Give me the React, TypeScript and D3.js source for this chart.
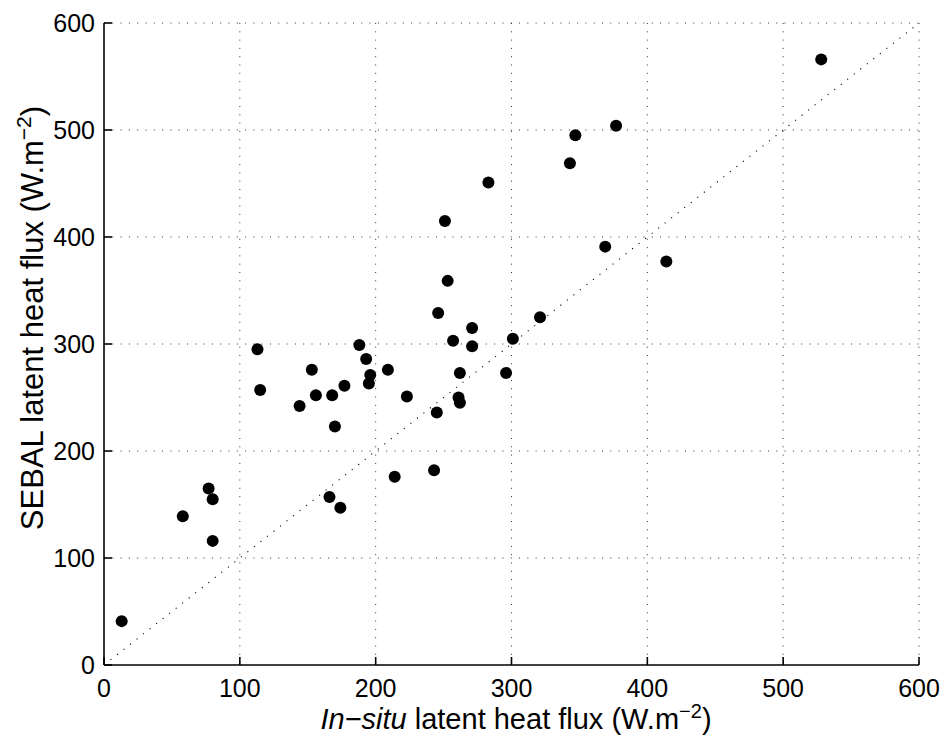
import React from "react";
import * as d3 from "d3";

const insituLE = [283, 251, 253, 246, 321, 271, 301, 257, 271, 113, 188, 193, 153, 209, 196, 195, 262, 296, 177, 115, 156, 168, 223, 261, 262, 144, 245, 170, 243, 214, 166, 528, 377, 347, 343, 369, 414, 77, 80, 58, 80, 174, 13];
const sebalLE = [451, 415, 359, 329, 325, 315, 305, 303, 298, 295, 299, 286, 276, 276, 271, 263, 273, 273, 261, 257, 252, 252, 251, 250, 245, 242, 236, 223, 182, 176, 157, 566, 504, 495, 469, 391, 377, 165, 155, 139, 116, 147, 41];
const xTicks = [0, 100, 200, 300, 400, 500, 600];
const yTicks = [0, 100, 200, 300, 400, 500, 600];
const oneToOne = [0, 600];

const W = 949;
const H = 746;
const left = 104;
const right = 919;
const top = 23;
const bottom = 665;
const FONT = "'Liberation Sans', Arial, Helvetica, sans-serif";

export default function App() {
  const x = d3.scaleLinear().domain([0, 600]).range([left, right]);
  const y = d3.scaleLinear().domain([0, 600]).range([bottom, top]);
  const line = d3
    .line<number>()
    .x((d) => x(d))
    .y((d) => y(d));

  return (
    <svg
      width={W}
      height={H}
      style={{ position: "absolute", left: 0, top: 0, background: "#fff" }}
      fontFamily={FONT}
    >
      <rect x={0} y={0} width={W} height={H} fill="#fff" />
      {/* grid */}
      {xTicks.filter((t) => t > 0).map((t) => (
        <line
          key={"gx" + t}
          x1={x(t)}
          x2={x(t)}
          y1={y(600)}
          y2={y(0)}
          stroke="#333"
          strokeWidth={1}
          strokeDasharray="1 7.3"
        />
      ))}
      {yTicks.filter((t) => t > 0).map((t) => (
        <line
          key={"gy" + t}
          x1={x(0)}
          x2={x(600)}
          y1={y(t)}
          y2={y(t)}
          stroke="#333"
          strokeWidth={1}
          strokeDasharray="1 7.3"
        />
      ))}
      {/* 1:1 line */}
      <path
        d={line(oneToOne) || ""}
        fill="none"
        stroke="#000"
        strokeWidth={1.1}
        strokeDasharray="1.1 7.2"
      />
      {/* points */}
      {insituLE.map((v, i) => (
        <circle key={i} cx={x(v)} cy={y(sebalLE[i])} r={6} fill="#000" />
      ))}
      {/* axes */}
      <line x1={x(0)} x2={x(600)} y1={y(0)} y2={y(0)} stroke="#000" strokeWidth={1.6} />
      <line x1={x(0)} x2={x(0)} y1={y(0)} y2={y(600)} stroke="#000" strokeWidth={1.6} />
      {xTicks.map((t) => (
        <g key={"tx" + t}>
          <line x1={x(t)} x2={x(t)} y1={y(0)} y2={y(0) - 8} stroke="#000" strokeWidth={1.6} />
          <text x={x(t)} y={697} textAnchor="middle" fontSize={25} fill="#000">
            {t}
          </text>
        </g>
      ))}
      {yTicks.map((t) => (
        <g key={"ty" + t}>
          <line x1={x(0)} x2={x(0) + 8} y1={y(t)} y2={y(t)} stroke="#000" strokeWidth={1.6} />
          <text x={95} y={y(t) + 9} textAnchor="end" fontSize={25} fill="#000">
            {t}
          </text>
        </g>
      ))}
      {/* x label */}
      <text x={516} y={729} textAnchor="middle" fontSize={29} fill="#000">
        <tspan fontStyle="italic">In−situ</tspan>
        <tspan> latent heat flux (W.m</tspan>
        <tspan fontSize={20} dy={-11}>−2</tspan>
        <tspan dy={11}>)</tspan>
      </text>
      {/* y label */}
      <text
        transform={`translate(43,318) rotate(-90)`}
        textAnchor="middle"
        fontSize={31}
        fill="#000"
      >
        <tspan>SEBAL latent heat flux (W.m</tspan>
        <tspan fontSize={21} dy={-12}>−2</tspan>
        <tspan dy={12}>)</tspan>
      </text>
    </svg>
  );
}
